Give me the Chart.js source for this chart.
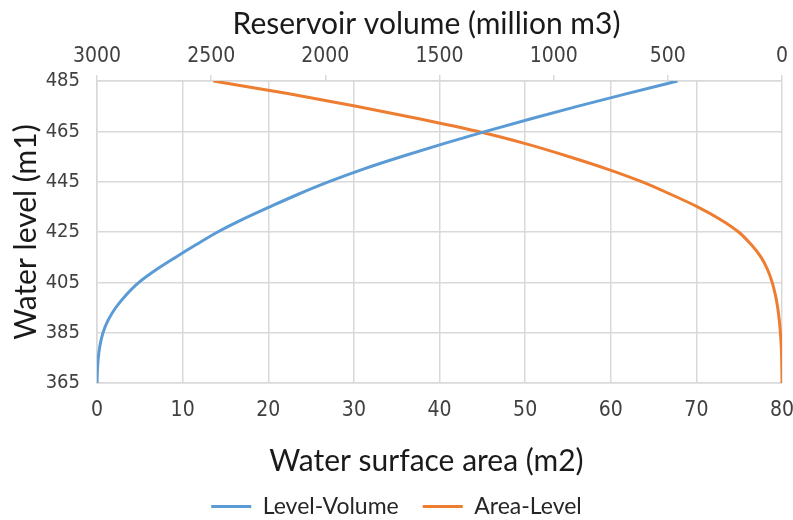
<!DOCTYPE html>
<html>
<head>
<meta charset="utf-8">
<script src="https://cdn.jsdelivr.net/npm/chart.js@4/dist/chart.umd.min.js"></script>
<style>
  html, body { margin: 0; padding: 0; background: #fff; overflow: hidden; }
  #wrap { width: 793px; height: 520px; }
</style>
</head>
<body>
<div id="wrap"><canvas id="myChart" width="793" height="520"></canvas></div>
<script>
// water level (m1), shared by both curves
var levels = [365, 370, 375, 380, 385, 390, 395, 400, 405, 410, 415, 420, 425,
              430, 435, 440, 445, 450, 455, 460, 465, 470, 475, 480, 485];
// Level-Volume curve, read on the bottom axis (water surface area)
var levelVolume = [0, 0.05, 0.15, 0.35, 0.7, 1.3, 2.2, 3.4, 4.9, 6.9, 9.2, 11.6, 14.1,
                   17.0, 20.2, 23.5, 27.1, 31.1, 35.6, 40.4, 45.4, 50.7, 56.2, 61.9, 67.8];
// Area-Level curve, read on the top axis (reservoir volume, reversed)
var areaLevel = [0, 0.5, 1.5, 3.5, 7, 12, 19, 29, 43, 63, 92, 135, 190,
                 270, 370, 488, 615, 765, 935, 1120, 1335, 1590, 1865, 2165, 2490];
var levelTicks = [365, 385, 405, 425, 445, 465, 485];
var areaTicks = [0, 10, 20, 30, 40, 50, 60, 70, 80];
var volumeTicks = [0, 500, 1000, 1500, 2000, 2500, 3000];

var titleFont = "Lato, 'Open Sans', sans-serif";
var tickFont = "'DejaVu Sans Condensed', 'DejaVu Sans', sans-serif";
var gridColor = '#d9d9d9';

function toPoints(xs) {
    return xs.map(function (v, i) { return { x: v, y: levels[i] }; });
}
function fixTicks(list) {
    return function (scale) {
        scale.ticks = list.map(function (v) { return { value: v }; });
    };
}
function plain(v) { return String(v); }
// horizontal axes: fixed height, only half of the end label sticks out,
// and the title sits a little left of the plot centre like the original
function fitHorizontal(h) {
    return function (scale) {
        scale.height = h;
        scale.paddingLeft = 0;
        scale.paddingRight = 11;
        var drawTitle = Object.getPrototypeOf(scale).drawTitle;
        scale.drawTitle = function () {
            this.ctx.save();
            this.ctx.translate(-13, 0);
            drawTitle.call(this);
            this.ctx.restore();
        };
    };
}

var canvas = document.getElementById('myChart');
var chart = new Chart(canvas, {
    type: 'scatter',
    data: {
        datasets: [{
            label: 'Level-Volume',
            data: toPoints(levelVolume),
            xAxisID: 'x',
            indexAxis: 'y',
            borderColor: '#5b9bd5',
            backgroundColor: '#5b9bd5',
            borderWidth: 3,
            showLine: true,
            cubicInterpolationMode: 'monotone',
            pointRadius: 0,
            pointStyle: 'line'
        }, {
            label: 'Area-Level',
            data: toPoints(areaLevel),
            xAxisID: 'x2',
            indexAxis: 'y',
            borderColor: '#ed7d31',
            backgroundColor: '#ed7d31',
            borderWidth: 3,
            showLine: true,
            cubicInterpolationMode: 'monotone',
            pointRadius: 0,
            pointStyle: 'line'
        }]
    },
    options: {
        responsive: false,
        animation: false,
        layout: { padding: { left: 0, right: 0, top: 0, bottom: -8 } },
        plugins: {
            tooltip: { enabled: false },
            legend: {
                position: 'bottom',
                labels: {
                    usePointStyle: true,
                    pointStyleWidth: 40,
                    padding: 24,
                    color: '#262626',
                    font: { family: titleFont, size: 23 }
                }
            }
        },
        scales: {
            x: {
                type: 'linear',
                position: 'bottom',
                min: 0, max: 80,
                afterBuildTicks: fixTicks(areaTicks),
                afterFit: fitHorizontal(88),
                grid: { color: gridColor, lineWidth: 1.5, drawTicks: false },
                border: { color: gridColor, width: 1.5 },
                ticks: { color: '#404040', padding: 15, callback: plain,
                         font: { family: tickFont, size: 21 } },
                title: {
                    display: true,
                    text: 'Water surface area (m2)',
                    color: '#1a1a1a',
                    padding: { top: 0, bottom: -8 },
                    font: { family: titleFont, size: 30 }
                }
            },
            x2: {
                type: 'linear',
                position: 'top',
                reverse: true,
                min: 0, max: 3000,
                afterBuildTicks: fixTicks(volumeTicks),
                afterFit: fitHorizontal(81),
                grid: { drawOnChartArea: false, color: gridColor, lineWidth: 1.5, tickLength: 6 },
                border: { color: gridColor, width: 1.5 },
                ticks: { color: '#404040', padding: 6, callback: plain,
                         font: { family: tickFont, size: 21 } },
                title: {
                    display: true,
                    text: 'Reservoir volume (million m3)',
                    color: '#1a1a1a',
                    padding: { top: 6, bottom: 0 },
                    font: { family: titleFont, size: 30 }
                }
            },
            y: {
                type: 'linear',
                min: 365, max: 485,
                afterBuildTicks: fixTicks(levelTicks),
                afterFit: function (scale) { scale.width = 97; },
                grid: { color: gridColor, lineWidth: 1.5, drawTicks: false },
                border: { color: gridColor, width: 1.5 },
                ticks: { color: '#404040', padding: 17, callback: plain,
                         font: { family: tickFont, size: 20 } },
                title: {
                    display: true,
                    text: 'Water level (m1)',
                    color: '#1a1a1a',
                    padding: { top: 8, bottom: 0 },
                    font: { family: titleFont, size: 30 }
                }
            }
        }
    }
});
</script>
</body>
</html>
